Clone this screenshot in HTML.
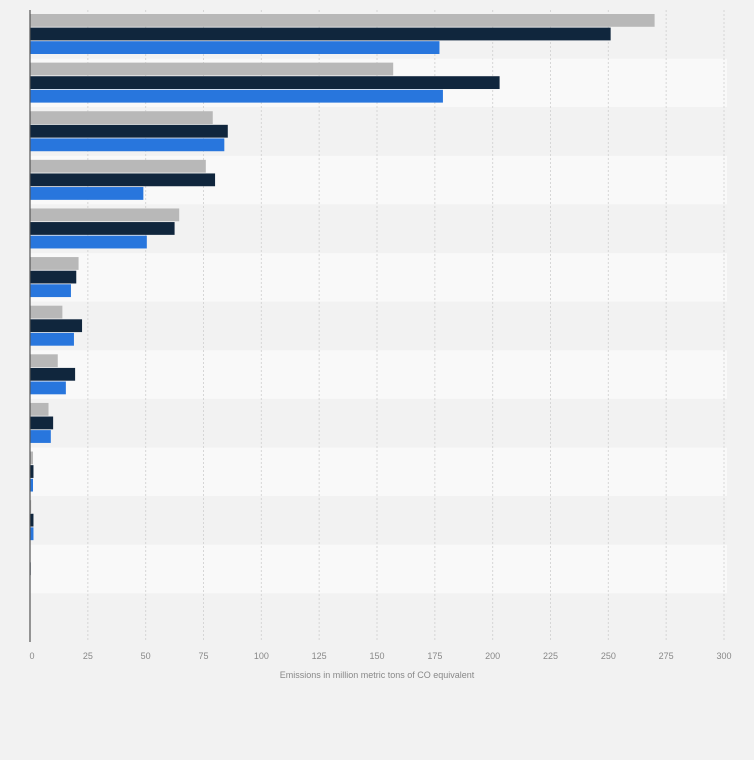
<!DOCTYPE html>
<html><head><meta charset="utf-8"><style>
body{margin:0;background:#f2f2f2;font-family:"Liberation Sans",sans-serif;}
svg{display:block}
</style></head><body>
<svg id="chart" width="754" height="760" viewBox="0 0 754 760">
<rect x="0" y="0" width="754" height="760" fill="#f2f2f2"/>
<g id="bands"></g><g id="grid"></g><g id="bars"></g><g id="ticks"></g>
<line x1="30" y1="10" x2="30" y2="642" stroke="#555" stroke-width="1.2"/>
<text x="377" y="678" text-anchor="middle" font-size="9" fill="#888">Emissions in million metric tons of CO equivalent</text>
</svg>
<script>
const categories = ["c1","c2","c3","c4","c5","c6","c7","c8","c9","c10","c11","c12","c13"];
const seriesGray = [270,157,79,76,64.5,21,14,12,8,1.3,0.5,0.2,0];
const seriesDark = [251,203,85.5,80,62.5,20,22.5,19.5,10,1.5,1.5,0.3,0];
const seriesBlue = [177,178.5,84,49,50.5,17.7,19,15.5,9,1.3,1.5,0,0];
const tickValues = [0,25,50,75,100,125,150,175,200,225,250,275,300];
const NS="http://www.w3.org/2000/svg";
const x0=30,x1=724,plotTop=10,plotBottom=642,xmax=300;
const xs=v=>x0+(v/xmax)*(x1-x0);
const bandH=(plotBottom-plotTop)/categories.length;
function mk(tag,attrs,parent){const e=document.createElementNS(NS,tag);for(const k in attrs)e.setAttribute(k,attrs[k]);document.getElementById(parent).appendChild(e);return e;}
categories.forEach((c,i)=>{
  const b=mk('rect',{x:x0,y:plotTop+i*bandH,width:727-x0,height:bandH,fill:i%2?'#f9f9f9':'#f2f2f2'},'bands');
  
  
});
tickValues.forEach(t=>{
  if(t>0){const g=mk('line',{x1:xs(t),x2:xs(t),y1:plotTop,y2:plotBottom,stroke:'#d6d6d6','stroke-dasharray':'2,2'},'grid');
  
  }
  const tx=mk('text',{x:xs(t)+(t===0?2:0),y:659,'text-anchor':'middle','font-size':'9',fill:'#888'},'ticks');
  tx.textContent=t;
  
  
});
const series=[[seriesGray,'#b8b8b8','gray'],[seriesDark,'#10263d','dark'],[seriesBlue,'#2876dd','blue']];
categories.forEach((c,i)=>{
  series.forEach(([vals,col,nm],j)=>{
    const y=plotTop+i*bandH+4+j*13.6;
    const r=mk('rect',{x:x0,y:y,width:Math.max(0,xs(vals[i])-x0),height:12.8,fill:col},'bars');
    
    
  });
});
</script>
</body></html>
